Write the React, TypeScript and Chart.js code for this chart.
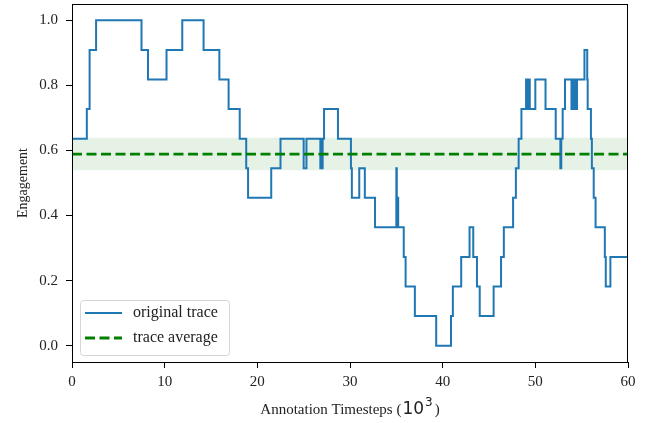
import React, { useEffect, useRef } from "react";
import { Chart, registerables } from "chart.js";

Chart.register(...registerables);

// Step change points of the original trace (x in 10^3 timesteps)
const stepTimes = [0, 1.6, 1.9, 2.6, 7.5, 8.2, 10.2, 11.9, 14.2, 15.9, 16.9, 18.1, 18.8, 19.0, 21.5, 22.5, 25.0, 25.3, 26.8, 26.9, 26.95, 27.05, 27.2, 28.7, 30.1, 30.2, 31.0, 31.6, 32.7, 35.0, 35.05, 35.1, 35.2, 35.8, 36.0, 37.0, 39.3, 40.9, 41.1, 42.0, 42.9, 43.3, 43.7, 44.0, 45.5, 46.3, 46.6, 47.6, 47.9, 48.2, 48.5, 49.0, 49.1, 49.2, 49.4, 50.0, 51.1, 52.2, 52.7, 52.8, 52.95, 53.2, 53.9, 54.0, 54.1, 54.3, 54.4, 54.5, 55.3, 55.6, 55.65, 56.0, 56.1, 56.3, 56.5, 57.5, 57.6, 58.1, 60];
const stepLevels = [0.636, 0.727, 0.909, 1.0, 0.909, 0.818, 0.909, 1.0, 0.909, 0.818, 0.727, 0.636, 0.545, 0.455, 0.545, 0.636, 0.545, 0.636, 0.545, 0.636, 0.545, 0.636, 0.727, 0.636, 0.545, 0.455, 0.545, 0.455, 0.364, 0.545, 0.364, 0.455, 0.364, 0.273, 0.182, 0.091, 0.0, 0.091, 0.182, 0.273, 0.364, 0.273, 0.182, 0.091, 0.182, 0.273, 0.364, 0.455, 0.545, 0.636, 0.727, 0.818, 0.727, 0.818, 0.727, 0.818, 0.727, 0.636, 0.545, 0.636, 0.727, 0.818, 0.727, 0.818, 0.727, 0.818, 0.727, 0.818, 0.909, 0.818, 0.727, 0.636, 0.545, 0.455, 0.364, 0.273, 0.182, 0.273, 0.273];

const xRange = [0, 60];
const yRange = [-0.05, 1.05];
const traceAverage = 0.589;
const bandHalfWidth = 0.05;

const legendLabels = ["original trace", "trace average"];
const xTitleParts = ["Annotation Timesteps (", "10", "3", ")"];
const yTitle = "Engagement";

const FONT = "'Liberation Serif', 'Times New Roman', serif";
const MATH_FONT = "'DejaVu Sans', sans-serif";
const BLUE = "#1f77b4";
const GREEN = "#008000";
const TEXT = "#222";

const boxPlugin = {
  id: "boxAndLegend",
  afterDraw(chart: any) {
    const { ctx, chartArea } = chart;
    const { left, right, top, bottom } = chartArea;
    ctx.save();
    // frame (all four spines)
    ctx.strokeStyle = "#000";
    ctx.lineWidth = 1;
    ctx.strokeRect(left + 0.5, top + 0.5, right - left - 1, bottom - top);

    // legend
    const lx = left + 8;
    const ly = bottom - 62;
    const lw = 149;
    const lh = 55;
    ctx.beginPath();
    ctx.roundRect(lx + 0.5, ly + 0.5, lw, lh, 3);
    ctx.fillStyle = "rgba(255,255,255,0.8)";
    ctx.fill();
    ctx.strokeStyle = "#d6d6d6";
    ctx.lineWidth = 1;
    ctx.stroke();

    const rows = [ly + 13, ly + 38];
    ctx.beginPath();
    ctx.strokeStyle = BLUE;
    ctx.lineWidth = 2;
    ctx.setLineDash([]);
    ctx.moveTo(lx + 5, rows[0]);
    ctx.lineTo(lx + 42, rows[0]);
    ctx.stroke();
    ctx.beginPath();
    ctx.strokeStyle = GREEN;
    ctx.lineWidth = 2.8;
    ctx.setLineDash([10, 4.5]);
    ctx.moveTo(lx + 5, rows[1]);
    ctx.lineTo(lx + 42, rows[1]);
    ctx.stroke();
    ctx.setLineDash([]);

    ctx.fillStyle = TEXT;
    ctx.font = `16px ${FONT}`;
    ctx.textBaseline = "middle";
    ctx.textAlign = "left";
    ctx.fillText(legendLabels[0], lx + 53, rows[0]);
    ctx.fillText(legendLabels[1], lx + 53, rows[1]);

    // x-axis title with mathtext-like 10^3
    const fonts = [`15px ${FONT}`, `17px ${MATH_FONT}`, `12px ${MATH_FONT}`, `15px ${FONT}`];
    const widths = xTitleParts.map((p, i) => {
      ctx.font = fonts[i];
      return ctx.measureText(p).width;
    });
    const gaps = [1, 1, 2, 0];
    const total = widths.reduce((a, b) => a + b, 0) + gaps.reduce((a, b) => a + b, 0);
    let x = (left + right) / 2 - total / 2;
    const baseline = 414;
    const offsets = [0, 0, -8, 0];
    ctx.textBaseline = "alphabetic";
    xTitleParts.forEach((p, i) => {
      ctx.font = fonts[i];
      ctx.fillText(p, x, baseline + offsets[i]);
      x += widths[i] + gaps[i];
    });
    ctx.restore();
  },
};

export default function App() {
  const canvasRef = useRef<HTMLCanvasElement | null>(null);

  useEffect(() => {
    if (!canvasRef.current) return;
    const tracePoints = stepTimes.map((t, i) => ({ x: t, y: stepLevels[i] }));
    const avgPoints = xRange.map((x) => ({ x, y: traceAverage }));
    const upperBand = xRange.map((x) => ({ x, y: traceAverage + bandHalfWidth }));
    const lowerBand = xRange.map((x) => ({ x, y: traceAverage - bandHalfWidth }));

    const chart = new Chart(canvasRef.current, {
      type: "line",
      data: {
        datasets: [
          {
            label: legendLabels[1],
            data: avgPoints,
            borderColor: GREEN,
            borderWidth: 2.8,
            borderDash: [10, 4.5],
            pointRadius: 0,
            fill: false,
            order: 0,
          },
          {
            label: legendLabels[0],
            data: tracePoints,
            borderColor: BLUE,
            borderWidth: 2,
            stepped: true,
            pointRadius: 0,
            fill: false,
            order: 1,
          },
          {
            label: "band upper",
            data: upperBand,
            borderWidth: 0,
            borderColor: "rgba(0,0,0,0)",
            backgroundColor: "rgba(0,128,0,0.1)",
            pointRadius: 0,
            fill: "+1",
            order: 2,
          },
          {
            label: "band lower",
            data: lowerBand,
            borderWidth: 0,
            borderColor: "rgba(0,0,0,0)",
            pointRadius: 0,
            fill: false,
            order: 3,
          },
        ],
      },
      options: {
        animation: false,
        responsive: false,
        maintainAspectRatio: false,
        layout: { padding: { top: 4, right: 24, left: 0, bottom: 0 } },
        plugins: {
          legend: { display: false },
          tooltip: { enabled: false },
        },
        scales: {
          x: {
            type: "linear",
            min: xRange[0],
            max: xRange[1],
            afterFit(scale: any) {
              scale.height = 61;
              scale.paddingLeft = 0;
              scale.paddingRight = 0;
            },
            ticks: {
              stepSize: 10,
              includeBounds: false,
              color: TEXT,
              font: { family: FONT, size: 15 },
              padding: 5,
              maxRotation: 0,
            },
            grid: {
              drawOnChartArea: false,
              drawTicks: true,
              tickLength: 6,
              color: "#000",
            },
            border: { display: true, color: "#000", width: 1 },
            title: { display: false },
          },
          y: {
            type: "linear",
            min: yRange[0],
            max: yRange[1],
            afterFit(scale: any) {
              scale.width = 72;
              scale.paddingTop = 0;
              scale.paddingBottom = 0;
            },
            ticks: {
              stepSize: 0.2,
              includeBounds: false,
              color: TEXT,
              font: { family: FONT, size: 15 },
              padding: 8,
              callback: (v: any) => Number(v).toFixed(1),
            },
            grid: {
              drawOnChartArea: false,
              drawTicks: true,
              tickLength: 6,
              color: "#000",
            },
            border: { display: true, color: "#000", width: 1 },
            title: {
              display: true,
              text: yTitle,
              color: TEXT,
              font: { family: FONT, size: 14 },
              padding: { top: 15, bottom: 0 },
            },
          },
        },
      },
      plugins: [boxPlugin],
    });
    return () => chart.destroy();
  }, []);

  return (
    <div style={{ position: "absolute", left: 0, top: 0, width: 652, height: 423, background: "#fff" }}>
      <canvas ref={canvasRef} width={652} height={423} style={{ width: 652, height: 423 }} />
    </div>
  );
}
